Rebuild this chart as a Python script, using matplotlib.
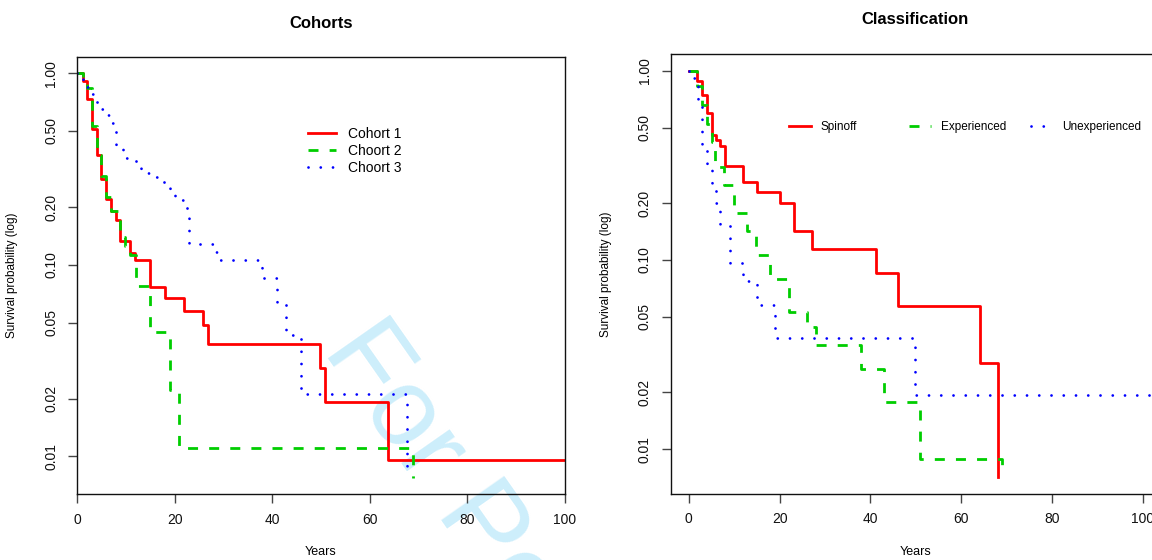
import matplotlib
matplotlib.use("Agg")
import matplotlib.pyplot as plt
from matplotlib.ticker import FixedLocator, FixedFormatter, NullLocator
from matplotlib.lines import Line2D

plt.rcParams['font.family'] = ['Liberation Sans', 'DejaVu Sans']

# ---- Cohorts panel ----
c1_t = [0, 1.2, 2.1, 3.0, 4.0, 5.0, 5.9, 6.9, 8.0, 8.9, 10.8, 11.8, 15.0, 18.0,
        21.9, 25.9, 26.9, 49.8, 50.8, 63.7, 100]
c1_s = [1.0, 0.912, 0.737, 0.51, 0.373, 0.28, 0.221, 0.192, 0.172, 0.134, 0.116,
        0.106, 0.077, 0.0675, 0.0577, 0.0484, 0.0386, 0.0289, 0.0193, 0.0096, 0.0096]

c2_t = [0, 1.2, 2.1, 3.0, 4.0, 5.0, 5.9, 6.9, 8.9, 9.9, 10.8, 12.0, 14.9, 19.0,
        21.0, 68.8]
c2_s = [1.0, 0.93, 0.84, 0.53, 0.375, 0.29, 0.227, 0.19, 0.14, 0.125, 0.113,
        0.0775, 0.0445, 0.0223, 0.0111, 0.0077]

c3_t = [0, 1.2, 2.1, 3.0, 4.0, 5.0, 6.0, 7.0, 7.9, 8.0, 9.5, 12.0, 13.2, 14.9,
        16.8, 17.8, 19.0, 20.0, 22.6, 22.9, 27.8, 28.8, 37.9, 40.9, 42.9, 45.9, 67.6]
c3_s = [1.0, 0.915, 0.845, 0.777, 0.711, 0.654, 0.604, 0.553, 0.506, 0.41, 0.36,
        0.32, 0.30, 0.287, 0.277, 0.255, 0.236, 0.217, 0.19, 0.128, 0.117, 0.106,
        0.085, 0.064, 0.043, 0.0213, 0.0083]

cohort_labels = ['Cohort 1', 'Choort 2', 'Choort 3']

# ---- Classification panel ----
sp_t = [0, 1.76, 2.87, 3.97, 5.07, 6.02, 6.9, 8.0, 12.0, 15.0, 20.1, 23.1, 27.1,
        41.2, 46.1, 64.1, 68.05]
sp_s = [1.0, 0.886, 0.743, 0.6, 0.457, 0.43, 0.40, 0.314, 0.257, 0.229, 0.20,
        0.143, 0.114, 0.0857, 0.057, 0.0287, 0.0071]

ex_t = [0, 1.9, 3.0, 4.0, 5.1, 5.8, 7.7, 9.85, 12.8, 14.8, 17.9, 22.0, 26.0,
        28.0, 38.0, 42.9, 51.0, 69.0]
ex_s = [1.0, 0.83, 0.66, 0.52, 0.42, 0.31, 0.25, 0.177, 0.142, 0.106, 0.0796,
        0.053, 0.0442, 0.0354, 0.0265, 0.0177, 0.00885, 0.0079]

un_t = [0, 1.0, 2.0, 3.0, 4.0, 5.1, 6.0, 6.9, 9.0, 12.0, 15.0, 19.0, 49.9, 110]
un_s = [1.0, 0.92, 0.69, 0.40, 0.31, 0.25, 0.20, 0.155, 0.096, 0.077, 0.058,
        0.0385, 0.0193, 0.0193]

class_labels = ['Spinoff', 'Experienced', 'Unexperienced']

yticks = [0.01, 0.02, 0.05, 0.10, 0.20, 0.50, 1.00]
ytick_labels = ['0.01', '0.02', '0.05', '0.10', '0.20', '0.50', '1.00']
xticks = [0, 20, 40, 60, 80, 100]

RED, GREEN, BLUE = '#ff0000', '#00cd00', '#0000ff'
styles = [
    dict(color=RED, lw=2.0, ls='-'),
    dict(color=GREEN, lw=2.0, ls=(0, (3.6, 4.0)), dash_capstyle='butt'),
    dict(color=BLUE, lw=2.0, ls=(0, (0.01, 4.4)), dash_capstyle='round'),
]

fig = plt.figure(figsize=(11.52, 5.6), dpi=100)
W, H = 1152, 560

def px_axes(l, t, r, b):
    return fig.add_axes([l / W, 1 - b / H, (r - l) / W, (b - t) / H])

def style_axes(ax, xlim, ylim):
    ax.set_yscale('log')
    ax.set_xlim(*xlim)
    ax.set_ylim(*ylim)
    ax.patch.set_alpha(0)
    ax.yaxis.set_major_locator(FixedLocator(yticks))
    ax.yaxis.set_major_formatter(FixedFormatter(ytick_labels))
    ax.yaxis.set_minor_locator(NullLocator())
    ax.set_xticks(xticks)
    ax.tick_params(length=6.5, width=1.0, color='#444444', labelsize=10,
                   labelcolor='#111111', pad=7)
    for lab in ax.get_yticklabels():
        lab.set_rotation(90)
        lab.set_va('center')
    for s in ax.spines.values():
        s.set_linewidth(1.0)
        s.set_color('#111111')

# watermark behind everything
fig.text(322 / W, 1 - 350 / H, 'For Peer Review', rotation=-55,
         rotation_mode='anchor', ha='left', va='baseline', fontsize=80,
         color='#cdeefb', zorder=-1)

# ---- left panel ----
ax1 = px_axes(77, 57, 565, 494)
style_axes(ax1, (0, 100), (0.00637, 1.216))
for (t, s), st in zip([(c1_t, c1_s), (c2_t, c2_s), (c3_t, c3_s)], styles):
    ax1.step(t, s, where='post', **st)
handles = [Line2D([], [], **st) for st in styles]
ax1.legend(handles, cohort_labels, loc='upper left',
           bbox_to_anchor=((308 - 77) / 488, (494 - 127) / 437),
           frameon=False, fontsize=10, handlelength=2.0, handletextpad=0.89,
           labelspacing=0.2, borderpad=0, borderaxespad=0)
ax1.set_xlabel('Years', fontsize=9)
ax1.set_ylabel('Survival probability (log)', fontsize=8.5)
ax1.xaxis.set_label_coords(0.5, -0.119)
ax1.yaxis.set_label_coords(-0.121, 0.5)
fig.text(321 / W, 1 - 23 / H, 'Cohorts', ha='center', va='center',
         fontsize=12, fontweight='bold')

# ---- right panel ----
ax2 = px_axes(670.7, 54.3, 1160.8, 493.7)
style_axes(ax2, (-4, 104), (0.00583, 1.22))
for (t, s), st in zip([(sp_t, sp_s), (ex_t, ex_s), (un_t, un_s)], styles):
    ax2.step(t, s, where='post', **st)
leg_x = [789.3, 909.3, 1030.7]
for i, (st, lab) in enumerate(zip(styles, class_labels)):
    lg = ax2.legend([Line2D([], [], **st)], [lab], loc='center left',
                    bbox_to_anchor=((leg_x[i] - 670.7) / 490.1, (493.7 - 126.7) / 439.4),
                    frameon=False, fontsize=8.5, handlelength=1.82,
                    handletextpad=0.85, borderpad=0, borderaxespad=0)
    if i < len(class_labels) - 1:
        ax2.add_artist(lg)
ax2.set_xlabel('Years', fontsize=9)
ax2.set_ylabel('Survival probability (log)', fontsize=8.5)
ax2.xaxis.set_label_coords((916 - 670.7) / 490.1, -0.119)
ax2.yaxis.set_label_coords(-0.1198, 0.5)
fig.text(915 / W, 1 - 20 / H, 'Classification', ha='center', va='center',
         fontsize=12, fontweight='bold')

fig.savefig('out.png', dpi=100)
